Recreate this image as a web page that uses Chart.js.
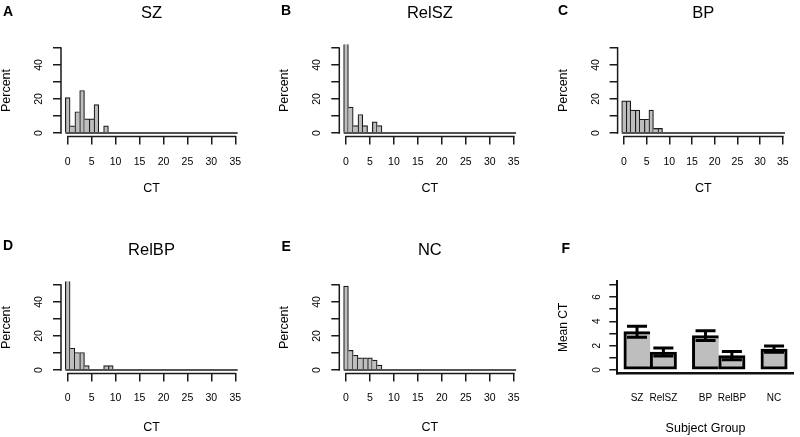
<!DOCTYPE html>
<html><head><meta charset="utf-8">
<script src="https://cdn.jsdelivr.net/npm/chart.js@4"></script>
<style>
html,body{margin:0;padding:0;background:#fff;}
#wrap{position:relative;width:800px;height:437px;overflow:hidden;background:#fff;}
#wrap canvas{position:absolute;left:0;top:0;}
.lbl{position:absolute;font:bold 14px "Liberation Sans",Arial,sans-serif;line-height:14px;color:#000;}
</style></head><body>
<div id="wrap">
<canvas id="cA" width="800" height="437"></canvas>
<canvas id="cB" width="800" height="437"></canvas>
<canvas id="cC" width="800" height="437"></canvas>
<canvas id="cD" width="800" height="437"></canvas>
<canvas id="cE" width="800" height="437"></canvas>
<canvas id="cF" width="800" height="437"></canvas>
<div class="lbl" style="left:3px;top:4.2px">A</div>
<div class="lbl" style="left:281px;top:3.2px">B</div>
<div class="lbl" style="left:558px;top:3.2px">C</div>
<div class="lbl" style="left:3px;top:238.2px">D</div>
<div class="lbl" style="left:281.5px;top:238.7px">E</div>
<div class="lbl" style="left:561.5px;top:240.7px">F</div>
</div>
<script>
// ---------------- data ----------------
// Histogram bins are 1 CT wide, centred on 0, 1, 2, ... ; values are percent of subjects
const pctSZ    = [20.8, 4.2, 12.5, 25.0, 8.3, 8.3, 16.7, 0, 4.2];
const pctRelSZ = [54.3, 15.2, 4.3, 10.9, 4.3, 0, 6.5, 4.3];
const pctBP    = [18.9, 18.9, 13.5, 13.5, 8.1, 8.1, 13.5, 2.7, 2.7];
const pctRelBP = [59.0, 12.8, 10.3, 10.3, 2.6, 0, 0, 0, 2.6, 2.6];
const pctNC    = [49.3, 11.6, 8.7, 7.2, 7.2, 7.2, 5.8, 2.9];
const binEdges = [-0.5, 35.5];          // outer edges of the histogram bins

const ctTicks = [0, 5, 10, 15, 20, 25, 30, 35];
const pctTicks = [0, 10, 20, 30, 40, 50];
const pctTickLabels = [0, 20, 40];

const groups = ['SZ', 'RelSZ', 'BP', 'RelBP', 'NC'];
const groupOf = [0, 0, 1, 1, 2];
const meanCT = [3.15, 1.48, 2.82, 1.18, 1.72];
const semCT  = [0.45, 0.32, 0.40, 0.33, 0.26];
const meanTicks = [0, 1, 2, 3, 4, 5, 6, 7];
const meanTickLabels = [0, 2, 4, 6];

// ---------------- styling / helpers ----------------
Chart.defaults.font.family = '"Liberation Sans", Arial, sans-serif';
Chart.defaults.color = '#000';
Chart.defaults.animation = false;
Chart.defaults.plugins.legend.display = false;
Chart.defaults.plugins.tooltip.enabled = false;

const FILL = '#bebebe', EDGE = '#1a1a1a', AXIS = '#1a1a1a';
const rExtend = (lo, hi) => [lo - 0.04 * (hi - lo), hi + 0.04 * (hi - lo)];

const rAxisLines = {
  id: 'rAxisLines',
  afterDraw(chart, args, o) {
    const {ctx, chartArea: a, scales: {x, y}} = chart;
    ctx.save();
    ctx.strokeStyle = o.color; ctx.lineWidth = o.width; ctx.lineCap = 'square';
    ctx.beginPath();
    ctx.moveTo(x.getPixelForValue(o.x[0]), a.bottom);
    ctx.lineTo(x.getPixelForValue(o.x[1]), a.bottom);
    ctx.moveTo(a.left, y.getPixelForValue(o.y[0]));
    ctx.lineTo(a.left, y.getPixelForValue(o.y[1]));
    ctx.stroke();
    ctx.restore();
  }
};

function histBorder(c) {
  const d = c.dataset.data, i = c.dataIndex;
  const cur = d[i].y, prev = i > 0 ? d[i - 1].y : 0, next = i < d.length - 1 ? d[i + 1].y : 0;
  return {top: 1.2, bottom: 0, left: cur >= prev ? 1.2 : 0, right: cur > next ? 1.2 : 0};
}

function histChart(id, values, title, L) {
  const xr = rExtend(ctTicks[0], ctTicks[ctTicks.length - 1]);
  const yr = rExtend(pctTicks[0], pctTicks[pctTicks.length - 1]);
  const gridOpts = {display: true, drawOnChartArea: false, drawTicks: true, tickLength: 8,
                    color: AXIS, lineWidth: 1.5, offset: false};
  return new Chart(document.getElementById(id), {
    type: 'bar',
    data: {
      datasets: [
        {type: 'bar', data: values.map((v, i) => ({x: i, y: v})),
         backgroundColor: FILL, borderColor: EDGE, borderWidth: histBorder, borderSkipped: false,
         barPercentage: 1, categoryPercentage: 1, clip: 0, order: 1},
        {type: 'line', data: binEdges.map(e => ({x: e, y: 0})),
         borderColor: EDGE, borderWidth: 1.5, pointRadius: 0, clip: false, order: 0}
      ]
    },
    options: {
      responsive: false,
      layout: {padding: {left: L.axisX - L.yW, right: 800 - L.right, top: L.padTop,
                         bottom: 437 - L.bottom - L.xH}},
      plugins: {
        title: {display: true, text: title, fullSize: false, color: '#000',
                font: {size: 16.5, weight: 'normal'}, padding: {top: L.tTop, bottom: L.tBot}},
        rAxisLines: {x: [ctTicks[0], ctTicks[ctTicks.length - 1]],
                     y: [pctTicks[0], pctTicks[pctTicks.length - 1]], color: AXIS, width: 1.5}
      },
      scales: {
        x: {type: 'linear', min: xr[0], max: xr[1], offset: false,
            afterBuildTicks: s => { s.ticks = ctTicks.map(v => ({value: v})); },
            afterFit: s => { s.height = L.xH; },
            grid: gridOpts, border: {display: false},
            ticks: {autoSkip: false, minRotation: 0, maxRotation: 0, padding: L.xPad, font: {size: 10.5}, color: '#000'},
            title: {display: true, text: 'CT', font: {size: 12.5}, padding: 0, color: '#000'}},
        y: {type: 'linear', min: yr[0], max: yr[1],
            afterBuildTicks: s => { s.ticks = pctTicks.map(v => ({value: v})); },
            afterFit: s => { s.width = L.yW; },
            grid: gridOpts, border: {display: false},
            ticks: {autoSkip: false, minRotation: 90, maxRotation: 90, crossAlign: 'center', padding: 8,
                    font: {size: 10.5}, color: '#000',
                    callback: v => pctTickLabels.includes(v) ? String(v) : ''},
            title: {display: true, text: 'Percent', font: {size: 12.5}, padding: 0, color: '#000'}}
      }
    },
    plugins: [rAxisLines]
  });
}

const topRow = {padTop: 0, tTop: 3.4, tBot: 21.4, bottom: 136.4, xH: 60, xPad: 11, yW: 61.8};
const botRow = {padTop: 237, tTop: 3.1, tBot: 21.7, bottom: 373.4, xH: 62, xPad: 10, yW: 61.8};

histChart('cA', pctSZ,    'SZ',    Object.assign({axisX: 61,    right: 242.0}, topRow));
histChart('cB', pctRelSZ, 'RelSZ', Object.assign({axisX: 339.3, right: 520.4}, topRow));
histChart('cC', pctBP,    'BP',    Object.assign({axisX: 617.6, right: 798.6}, topRow));
histChart('cD', pctRelBP, 'RelBP', Object.assign({axisX: 61,    right: 242.0}, botRow));
histChart('cE', pctNC,    'NC',    Object.assign({axisX: 339.3, right: 520.4}, botRow));

// ---------------- panel F ----------------
const GROUP_GAP = 0.6;
const barPos = groups.map((g, i) => i + GROUP_GAP * groupOf[i] + 0.5);
const fxr = rExtend(0, groups.length + GROUP_GAP * groupOf[groupOf.length - 1]);
const fyr = rExtend(meanTicks[0], meanTicks[meanTicks.length - 1]);

const errorBars = {
  id: 'errorBars',
  afterDatasetsDraw(chart, args, o) {
    const meta = chart.getDatasetMeta(0), ys = chart.scales.y, ctx = chart.ctx;
    ctx.save();
    ctx.strokeStyle = o.color; ctx.lineWidth = o.width;
    meta.data.forEach((bar, i) => {
      const yT = ys.getPixelForValue(meanCT[i] + o.err[i]);
      const yB = ys.getPixelForValue(meanCT[i] - o.err[i]);
      const hw = o.cap / 2;
      ctx.beginPath();
      ctx.moveTo(bar.x, yT); ctx.lineTo(bar.x, yB);
      ctx.moveTo(bar.x - hw, yT); ctx.lineTo(bar.x + hw, yT);
      ctx.moveTo(bar.x - hw, yB); ctx.lineTo(bar.x + hw, yB);
      ctx.stroke();
    });
    ctx.restore();
  }
};

const F = {axisX: 617.3, right: 799, top: 281.4, bottom: 373.4, yW: 61.2, xH: 63};
new Chart(document.getElementById('cF'), {
  type: 'bar',
  data: {
    datasets: [{
      data: meanCT.map((m, i) => ({x: barPos[i], y: m})),
      backgroundColor: FILL, borderColor: '#000',
      borderWidth: c => {
        const i = c.dataIndex;
        const adj = i + 1 < groupOf.length && groupOf[i + 1] === groupOf[i];
        return {top: 3, left: 3, bottom: 3, right: adj ? 0 : 3};
      },
      borderSkipped: false, barPercentage: 1, categoryPercentage: 1
    }]
  },
  options: {
    responsive: false,
    layout: {padding: {left: F.axisX - F.yW, right: 800 - F.right, top: F.top, bottom: 437 - F.bottom - F.xH}},
    plugins: {errorBars: {err: semCT, cap: 20, width: 3, color: '#000'}},
    scales: {
      x: {type: 'linear', min: fxr[0], max: fxr[1], offset: false,
          afterBuildTicks: s => { s.ticks = barPos.map(v => ({value: v})); },
          afterFit: s => { s.height = F.xH; },
          grid: {display: false, drawTicks: false, offset: false},
          border: {display: true, color: '#111', width: 2.5},
          ticks: {autoSkip: false, minRotation: 0, maxRotation: 0, padding: 18.6, font: {size: 10}, color: '#000',
                  callback: (v, i) => groups[i]},
          title: {display: true, text: 'Subject Group', font: {size: 12.5}, padding: 0, color: '#000'}},
      y: {type: 'linear', min: fyr[0], max: fyr[1],
          afterBuildTicks: s => { s.ticks = meanTicks.map(v => ({value: v})); },
          afterFit: s => { s.width = F.yW; },
          grid: {display: true, drawOnChartArea: false, drawTicks: true, tickLength: 8, color: AXIS, lineWidth: 1.5},
          border: {display: true, color: '#111', width: 2},
          ticks: {autoSkip: false, minRotation: 90, maxRotation: 90, crossAlign: 'center', padding: 9.5,
                  font: {size: 10}, color: '#000',
                  callback: v => meanTickLabels.includes(v) ? String(v) : ''},
          title: {display: true, text: 'Mean CT', font: {size: 12}, padding: 0, color: '#000'}}
    }
  },
  plugins: [errorBars]
});
</script>
</body></html>
